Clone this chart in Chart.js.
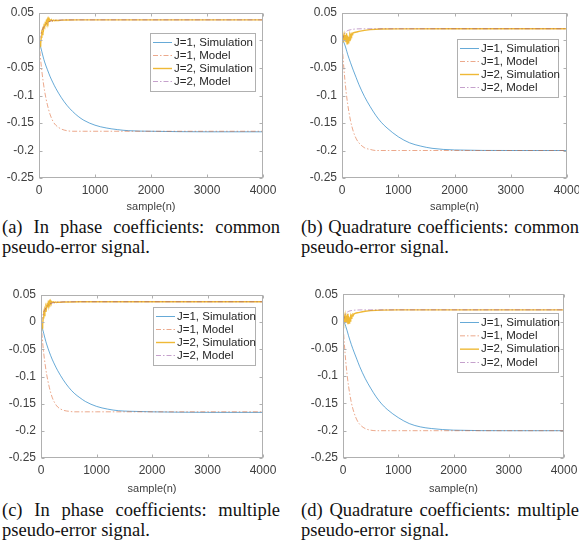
<!DOCTYPE html>
<html>
<head>
<meta charset="utf-8">
<script src="https://cdn.jsdelivr.net/npm/chart.js@4.4.1/dist/chart.umd.min.js"></script>
<style>
  html, body { margin: 0; padding: 0; background: #fff; }
  body { width: 579px; height: 543px; position: relative; overflow: hidden; }
  canvas { position: absolute; }
  .cap { position: absolute; width: 278px; font-family: "Liberation Serif", "Times New Roman", serif; font-size: 18.5px; line-height: 19.5px; color: #111; }
  .cap .l1 { white-space: nowrap; text-align: justify; text-align-last: justify; }
</style>
</head>
<body>
<canvas id="chartA" width="290" height="215" style="left:0;top:0"></canvas>
<canvas id="chartB" width="310" height="215" style="left:290px;top:0"></canvas>
<canvas id="chartC" width="290" height="215" style="left:0;top:282px"></canvas>
<canvas id="chartD" width="310" height="215" style="left:290px;top:282px"></canvas>

<div class="cap" style="left:2px;top:218px"><div class="l1">(a) In phase coefficients: common</div><div>pseudo-error signal.</div></div>
<div class="cap" style="left:301px;top:218px"><div class="l1">(b) Quadrature coefficients: common</div><div>pseudo-error signal.</div></div>
<div class="cap" style="left:2px;top:501px"><div class="l1">(c) In phase coefficients: multiple</div><div>pseudo-error signal.</div></div>
<div class="cap" style="left:301px;top:501px"><div class="l1">(d) Quadrature coefficients: multiple</div><div>pseudo-error signal.</div></div>

<script>
// series names and ticks
const seriesLabels = ["J=1, Simulation", "J=1, Model", "J=2, Simulation", "J=2, Model"];
const xTicks = [0, 1000, 2000, 3000, 4000];
const yTicks = [0.05, 0, -0.05, -0.1, -0.15, -0.2, -0.25];

// sample positions (n) the values below were read at
const simGrid = [0, 25, 50, 75, 100, 150, 200, 250, 300, 400, 500, 600, 700, 800, 1000, 1200, 1400, 1600, 2000, 3000, 4000];
const modelGrid = [0, 25, 50, 75, 100, 150, 200, 250, 300, 400, 500, 600, 800, 1000, 2000, 4000];
const noisyGrid = [0, 10, 20, 30, 40, 50, 60, 70, 80, 90, 100, 110, 120, 130, 140, 150, 160, 170, 180, 190, 200,
  220, 240, 260, 280, 300, 350, 400, 500, 700, 1000, 2000, 4000];

// (a) in phase, common pseudo-error
const aJ1Sim = [0, -0.01, -0.02, -0.03, -0.039, -0.053, -0.066, -0.077, -0.087, -0.104, -0.118, -0.129, -0.138, -0.145, -0.154, -0.159, -0.162, -0.164, -0.165, -0.166, -0.166];
const aJ1Model = [0, -0.03, -0.055, -0.075, -0.092, -0.117, -0.135, -0.147, -0.154, -0.161, -0.164, -0.165, -0.165, -0.165, -0.165, -0.165];
const aJ2Sim = [0, -0.004, -0.01, -0.006, 0.006, 0.014, 0.011, 0.021, 0.019, 0.027, 0.025, 0.031, 0.029, 0.035, 0.032, 0.038, 0.034, 0.039, 0.035, 0.038, 0.036,
  0.038, 0.0355, 0.037, 0.036, 0.0368, 0.0365, 0.037, 0.0372, 0.0375, 0.0375, 0.0375, 0.0375];
const aJ2Model = [0, 0.009, 0.017, 0.023, 0.027, 0.032, 0.035, 0.0362, 0.0368, 0.0373, 0.0375, 0.0375, 0.0375, 0.0375, 0.0375, 0.0375];

// (b) quadrature, common pseudo-error
const bJ1Sim = [0, -0.002, -0.008, -0.016, -0.025, -0.04, -0.054, -0.067, -0.08, -0.102, -0.12, -0.136, -0.149, -0.159, -0.175, -0.186, -0.192, -0.196, -0.199, -0.2, -0.2];
const bJ1Model = [-0.005, -0.04, -0.07, -0.095, -0.115, -0.145, -0.165, -0.178, -0.186, -0.195, -0.198, -0.2, -0.2, -0.2, -0.2, -0.2];
const bJ2Sim = [0.002, -0.004, 0.006, -0.002, 0.008, 0, 0.01, -0.003, 0.013, -0.006, 0.009, -0.004, 0.007, 0, 0.009, 0.005, 0.011, 0.009, 0.013, 0.012, 0.014,
  0.0145, 0.015, 0.0155, 0.016, 0.0165, 0.0175, 0.0185, 0.0198, 0.0208, 0.0212, 0.0213, 0.0213];
const bJ2Model = [0, 0.008, 0.013, 0.016, 0.018, 0.0195, 0.0205, 0.021, 0.0212, 0.0213, 0.0213, 0.0213, 0.0213, 0.0213, 0.0213, 0.0213];

// (c) in phase, multiple pseudo-error
const cJ1Sim = [0, -0.011, -0.021, -0.031, -0.04, -0.055, -0.068, -0.079, -0.089, -0.106, -0.12, -0.131, -0.139, -0.146, -0.155, -0.16, -0.163, -0.164, -0.165, -0.166, -0.166];
const cJ1Model = [0, -0.032, -0.058, -0.078, -0.095, -0.12, -0.138, -0.149, -0.156, -0.162, -0.164, -0.165, -0.165, -0.165, -0.165, -0.165];
const cJ2Sim = [0, -0.005, -0.011, -0.004, 0.008, 0.016, 0.012, 0.023, 0.02, 0.029, 0.026, 0.032, 0.03, 0.036, 0.033, 0.038, 0.035, 0.039, 0.036, 0.038, 0.0365,
  0.0375, 0.036, 0.037, 0.0362, 0.0368, 0.0367, 0.037, 0.0372, 0.0375, 0.0375, 0.0375, 0.0375];
const cJ2Model = [0, 0.01, 0.018, 0.024, 0.028, 0.033, 0.0352, 0.0363, 0.0369, 0.0373, 0.0375, 0.0375, 0.0375, 0.0375, 0.0375, 0.0375];

// (d) quadrature, multiple pseudo-error
const dJ1Sim = [0, -0.002, -0.009, -0.017, -0.026, -0.042, -0.056, -0.069, -0.082, -0.104, -0.122, -0.138, -0.151, -0.161, -0.176, -0.187, -0.193, -0.196, -0.199, -0.2, -0.2];
const dJ1Model = [-0.004, -0.042, -0.073, -0.098, -0.118, -0.148, -0.167, -0.18, -0.188, -0.196, -0.199, -0.2, -0.2, -0.2, -0.2, -0.2];
const dJ2Sim = [0.001, -0.003, 0.007, -0.001, 0.009, -0.001, 0.011, -0.002, 0.014, -0.005, 0.01, -0.003, 0.008, 0.001, 0.009, 0.006, 0.011, 0.01, 0.013, 0.012, 0.014,
  0.015, 0.0155, 0.016, 0.0163, 0.0168, 0.0178, 0.0188, 0.02, 0.0208, 0.0212, 0.0213, 0.0213];
const dJ2Model = [0, 0.009, 0.014, 0.017, 0.0185, 0.02, 0.0207, 0.021, 0.0212, 0.0213, 0.0213, 0.0213, 0.0213, 0.0213, 0.0213, 0.0213];

const lineColors = ["rgba(0,114,189,0.6)", "rgba(217,83,25,0.5)", "rgba(237,177,32,0.9)", "rgba(126,47,142,0.45)"];
const lineDashes = [[], [5, 2, 1.5, 2], [], [5, 2, 1.5, 2]];
const lineGrids = [simGrid, modelGrid, noisyGrid, modelGrid];

Chart.defaults.font.family = "'Liberation Sans', Arial, sans-serif";

// MATLAB-like box with inward ticks on all sides
const axesBox = {
  id: "axesBox",
  afterDatasetsDraw(chart) {
    const { ctx, chartArea: a, scales } = chart;
    const L = Math.round(a.left) + 0.5, R = Math.round(a.right) - 0.5;
    const T = Math.round(a.top) + 0.5, B = Math.round(a.bottom) - 0.5;
    ctx.save();
    ctx.strokeStyle = "#b0b0b0";
    ctx.lineWidth = 1;
    ctx.strokeRect(L, T, R - L, B - T);
    ctx.beginPath();
    xTicks.forEach(v => {
      const px = Math.round(scales.x.getPixelForValue(v)) + 0.5;
      ctx.moveTo(px, B); ctx.lineTo(px, B - 3);
      ctx.moveTo(px, T); ctx.lineTo(px, T + 3);
    });
    yTicks.forEach(v => {
      const py = Math.round(scales.y.getPixelForValue(v)) + 0.5;
      ctx.moveTo(L, py); ctx.lineTo(L + 3, py);
      ctx.moveTo(R, py); ctx.lineTo(R - 3, py);
    });
    ctx.stroke();
    ctx.restore();
  }
};

// legend box placed inside the axes
const boxLegend = {
  id: "boxLegend",
  afterDraw(chart, args, opts) {
    const { ctx } = chart;
    const b = opts.box;
    ctx.save();
    ctx.fillStyle = "#fff";
    ctx.fillRect(b.x, b.y, b.w, b.h);
    ctx.strokeStyle = "#b0b0b0";
    ctx.lineWidth = 1;
    ctx.strokeRect(Math.round(b.x) + 0.5, Math.round(b.y) + 0.5, b.w, b.h);
    const step = (b.h - 19) / 3;
    ctx.font = "11.5px 'Liberation Sans', Arial, sans-serif";
    ctx.textBaseline = "middle";
    chart.data.datasets.forEach((ds, i) => {
      const yy = b.y + 9.5 + i * step;
      ctx.strokeStyle = ds.borderColor;
      ctx.lineWidth = ds.borderWidth;
      ctx.setLineDash(ds.borderDash || []);
      ctx.beginPath();
      ctx.moveTo(b.x + 3, yy);
      ctx.lineTo(b.x + 22, yy);
      ctx.stroke();
      ctx.setLineDash([]);
      ctx.fillStyle = "#262626";
      ctx.fillText(ds.label, b.x + 24, yy);
    });
    ctx.restore();
  }
};

function makePanel(id, plot, box, series) {
  const canvas = document.getElementById(id);
  const W = canvas.width, H = canvas.height;
  const datasets = series.map((vals, i) => ({
    label: seriesLabels[i],
    data: vals.map((v, k) => ({ x: lineGrids[i][k], y: v })),
    borderColor: lineColors[i],
    borderWidth: i === 2 ? 1.4 : 1,
    borderDash: lineDashes[i],
    pointRadius: 0,
    cubicInterpolationMode: i === 2 ? "default" : "monotone",
    tension: 0,
    order: 4 - i
  }));
  return new Chart(canvas, {
    type: "line",
    data: { datasets },
    options: {
      responsive: false,
      animation: false,
      devicePixelRatio: 1,
      layout: { padding: { left: 0, top: plot.t, right: W - plot.r, bottom: 0 } },
      plugins: { legend: { display: false }, tooltip: { enabled: false }, boxLegend: { box } },
      scales: {
        x: {
          type: "linear", min: 0, max: 4000,
          grid: { display: false, drawTicks: false },
          border: { display: false },
          afterBuildTicks: s => { s.ticks = xTicks.map(value => ({ value })); },
          afterFit: s => { s.height = H - plot.b; },
          ticks: { color: "#404040", font: { size: 12 }, padding: 5, maxRotation: 0, callback: v => String(v) },
          title: { display: true, text: "sample(n)", color: "#404040", font: { size: 11 }, padding: { top: 0, bottom: 1 } }
        },
        y: {
          min: -0.25, max: 0.05,
          grid: { display: false, drawTicks: false },
          border: { display: false },
          afterBuildTicks: s => { s.ticks = yTicks.map(value => ({ value })); },
          afterFit: s => { s.width = plot.l; },
          ticks: { color: "#404040", font: { size: 12 }, padding: 5, callback: v => String(parseFloat(v.toFixed(2))) }
        }
      }
    },
    plugins: [axesBox, boxLegend]
  });
}

makePanel("chartA", { l: 39, t: 13, r: 263, b: 178 }, { x: 150, y: 33, w: 105, h: 58 }, [aJ1Sim, aJ1Model, aJ2Sim, aJ2Model]);
makePanel("chartB", { l: 52, t: 13, r: 277, b: 178 }, { x: 167, y: 39, w: 101, h: 58 }, [bJ1Sim, bJ1Model, bJ2Sim, bJ2Model]);
makePanel("chartC", { l: 41, t: 13, r: 263, b: 176 }, { x: 153, y: 25, w: 102, h: 58 }, [cJ1Sim, cJ1Model, cJ2Sim, cJ2Model]);
makePanel("chartD", { l: 53, t: 12, r: 274, b: 176 }, { x: 167, y: 31, w: 101, h: 59 }, [dJ1Sim, dJ1Model, dJ2Sim, dJ2Model]);
</script>
</body>
</html>
